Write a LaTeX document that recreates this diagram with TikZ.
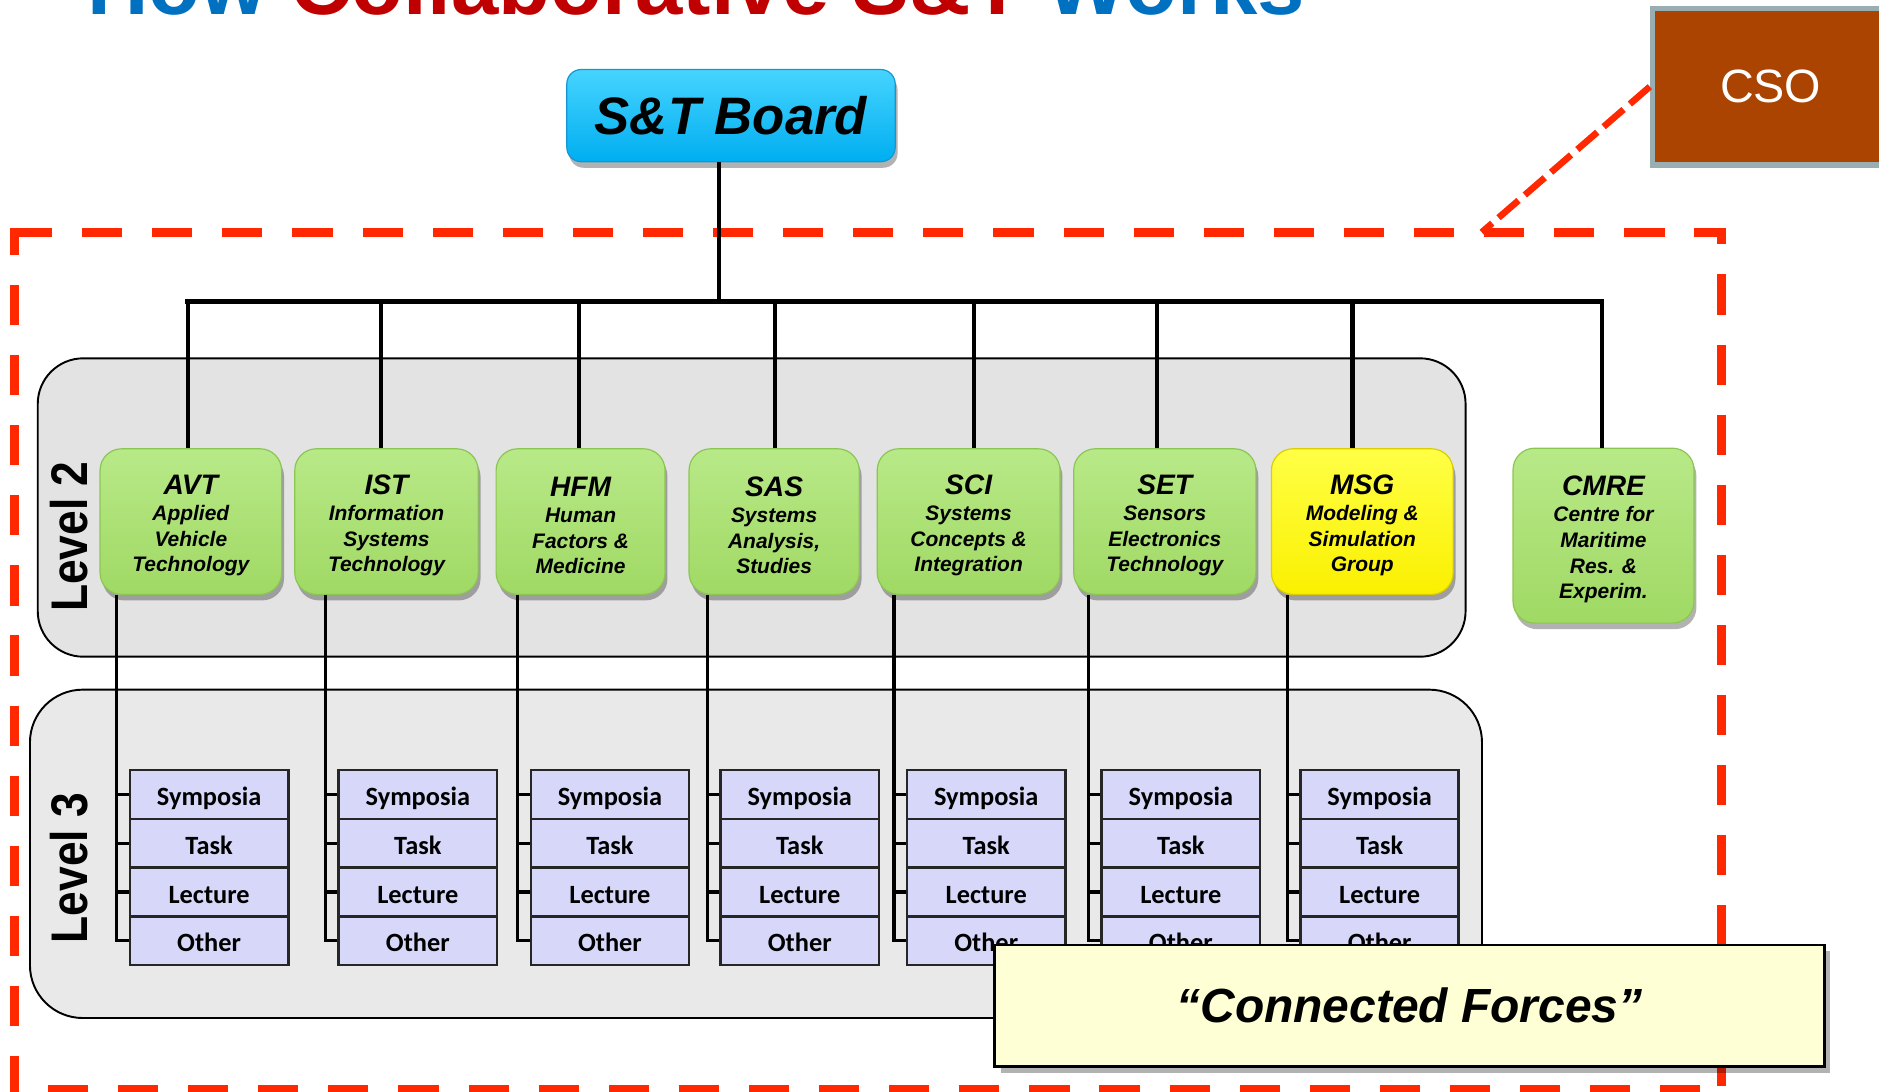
\documentclass[tikz,border=0pt]{standalone}
\usepackage{graphicx}
\usepackage{fontspec}
\setmainfont{Liberation Sans}
\newfontfamily\carl{Carlito}
\usetikzlibrary{shadows,calc}
\definecolor{gtop}{RGB}{184,233,136}
\definecolor{gbot}{RGB}{160,217,100}
\definecolor{gline}{RGB}{140,198,82}
\definecolor{ytop}{RGB}{255,255,70}
\definecolor{ybot}{RGB}{250,240,0}
\definecolor{yline}{RGB}{220,205,0}
\definecolor{btop}{RGB}{70,212,255}
\definecolor{bbot}{RGB}{0,174,240}
\definecolor{bline}{RGB}{20,150,210}
\definecolor{lav}{RGB}{215,215,250}
\definecolor{pnlA}{RGB}{227,227,227}
\definecolor{pnlB}{RGB}{233,233,233}
\definecolor{cfy}{RGB}{255,255,214}
\definecolor{csob}{RGB}{170,68,0}
\definecolor{csol}{RGB}{152,174,178}
\definecolor{fred}{RGB}{255,40,0}
\definecolor{tblue}{RGB}{0,112,192}
\definecolor{tred}{RGB}{192,0,0}
\newcommand\gttl[1]{\rule{0pt}{23pt}{\fontsize{23.5}{21.5}\selectfont #1}}
\tikzset{
  shadowA/.style={drop shadow={shadow xshift=2pt,shadow yshift=-5pt,opacity=.3,fill=black}},
  gbox/.style={rounded corners=18pt, minimum height=121.5pt, draw=gline, line width=1pt,
     top color=gtop, bottom color=gbot, shadowA, align=center, inner sep=0pt,
     font=\bfseries\itshape\fontsize{17.5}{21.5}\selectfont},
  ybox/.style={gbox, draw=yline, top color=ytop, bottom color=ybot},
  boardbox/.style={rounded corners=12pt, minimum width=274pt, minimum height=77pt, draw=bline,
     line width=1pt, top color=btop, bottom color=bbot, shadowA, inner sep=0pt,
     font=\bfseries\itshape\fontsize{44}{44}\selectfont},
  panelA/.style={draw=black, line width=1.6pt, fill=pnlA, rounded corners=38pt, inner sep=0pt},
  panelB/.style={draw=black, line width=1.6pt, fill=pnlB, rounded corners=44pt, inner sep=0pt},
  lvllabel/.style={rotate=90, inner sep=0pt, font=\bfseries\fontsize{43}{43}\selectfont},
  cellbox/.style={draw=black!85, line width=2.2pt, fill=lav, minimum width=132pt,
     minimum height=40.7pt, inner sep=0pt, text height=20pt, text depth=1.4pt,
     font=\carl\bfseries\fontsize{22}{22}\selectfont},
  busline/.style={line width=4.5pt, black, line cap=rect},
  dropline/.style={line width=3.5pt, black},
  connline/.style={line width=2.8pt, black},
  framedash/.style={draw=fred, line width=7.5pt, dash pattern=on 33.5pt off 25pt},
  diagdash/.style={draw=fred, line width=5.5pt, dash pattern=on 22pt off 7pt},
  cfbox/.style={draw=black, line width=2pt, fill=cfy, minimum width=692.4pt, minimum height=101.4pt,
     drop shadow={shadow xshift=5pt,shadow yshift=-5pt,opacity=.3,fill=black},
     font=\bfseries\itshape\fontsize{40}{40}\selectfont},
  csobox/.style={draw=csol, line width=4.5pt, fill=csob, minimum width=197.2pt, minimum height=130.7pt,
     text=white, font=\fontsize{39}{39}\selectfont}
}
\begin{document}
\begin{tikzpicture}[x=1pt,y=-1pt]
\useasboundingbox (0,0) rectangle (1568,911);
\clip (0,0) rectangle (1568,911);

% title (cut off at top)
\node[anchor=base west, inner sep=0pt, font=\bfseries\fontsize{71}{71}\selectfont] (title) at (72.5,12)
  {\textcolor{tblue}{How} \textcolor{tred}{Collaborative S\&T} \textcolor{tblue}{Works}};

% red dashed frame
\draw[framedash, dash phase=56.75pt] (8.25,193.8) -- (1440.35,193.8);
\draw[framedash, dash phase=10.75pt] (12,190.05) -- (12,913);
\draw[framedash, dash phase=19.55pt] (1436.6,190.05) -- (1436.6,913);
\draw[framedash, dash phase=26.75pt] (8.25,909) -- (1440.35,909);
\coordinate (fr) at (1236.5,193.8);

% panels
\node[panelA, minimum width=1191.5pt, minimum height=249pt] (lvlA) at (627.25,423.5) {};
\node[panelB, minimum width=1211.7pt, minimum height=274pt] (lvlB) at (630.85,712.5) {};
\node[lvllabel] (labA) at (58,447.8) {\scalebox{0.86}[1]{Level 2}};
\node[lvllabel] (labB) at (57.6,724.5) {\scalebox{0.86}[1]{Level 3}};

% board
\node[boardbox] (board) at (610,96.5) {S\&T Board};

% level 2 boxes
\node[gbox, minimum width=151.5pt] (avt) at (159.25,435.25) {\gttl{AVT}\\Applied\\Vehicle\\Technology};
\node[gbox, minimum width=153pt] (ist) at (322.5,435.25) {\gttl{IST}\\Information\\Systems\\Technology};
\node[gbox, minimum width=141pt] (hfm) at (484.5,435.25) {\gttl{HFM}\\Human\\Factors \&\\Medicine};
\node[gbox, minimum width=142pt] (sas) at (646,435.25) {\gttl{SAS}\\Systems\\Analysis,\\Studies};
\node[gbox, minimum width=152.6pt] (sci) at (808.3,435.25) {\gttl{SCI}\\Systems\\Concepts \&\\Integration};
\node[gbox, minimum width=152pt] (set) at (972,435.25) {\gttl{SET}\\Sensors\\Electronics\\Technology};
\node[ybox, minimum width=151.6pt] (msg) at (1136.8,435.25) {\gttl{MSG}\\Modeling \&\\Simulation\\Group};
\node[gbox, minimum width=151pt, minimum height=146pt] (cmre) at (1338.1,447) {\gttl{CMRE}\\Centre for\\Maritime\\Res. \&\\Experim.};

% bus and drops
\coordinate (busY) at (0,251.7);
\path ([xshift=-9.7pt]board.south) coordinate (bst);
\path ([xshift=-2.65pt]avt.north) coordinate (d1);
\path ([xshift=-4.3pt]ist.north) coordinate (d2);
\path ([xshift=-1.2pt]hfm.north) coordinate (d3);
\path ([xshift=0.8pt]sas.north) coordinate (d4);
\path ([xshift=4.5pt]sci.north) coordinate (d5);
\path ([xshift=-6.6pt]set.north) coordinate (d6);
\path ([xshift=-8.1pt]msg.north) coordinate (d7);
\path ([xshift=-1.5pt]cmre.north) coordinate (d8);
\draw[dropline] (bst) -- (bst |- busY);
\foreach \k in {1,...,8} \draw[dropline] (d\k |- busY) -- (d\k);
\draw[busline] (d1 |- busY) -- (d8 |- busY);

% level 3 stacks
\foreach \i/\L/\b in {1/108.5/avt,2/282.7/ist,3/443/hfm,4/601.4/sas,5/757/sci,6/919.4/set,7/1085.3/msg}{
  \node[cellbox] (s\i a) at (\L+66,662.95) {Symposia};
  \node[cellbox] (s\i b) at (\L+66,703.65) {Task};
  \node[cellbox] (s\i c) at (\L+66,744.35) {Lecture};
  \node[cellbox] (s\i d) at (\L+66,785.05) {Other};
  \path (s\i a.west) ++(-10,0) coordinate (c\i);
  \draw[connline] (c\i |- \b.south) -- (c\i |- s\i d.west) -- (s\i d.west);
  \foreach \r in {a,b,c} \draw[connline] (c\i |- s\i\r.west) -- (s\i\r.west);
}

% connected forces
\node[cfbox] (cf) at (1176.2,839.3) {“Connected Forces”};

% CSO
\node[csobox] (cso) at (1477.6,72.35) {CSO};
\draw[diagdash] (cso.west) -- (fr);
\end{tikzpicture}
\end{document}
